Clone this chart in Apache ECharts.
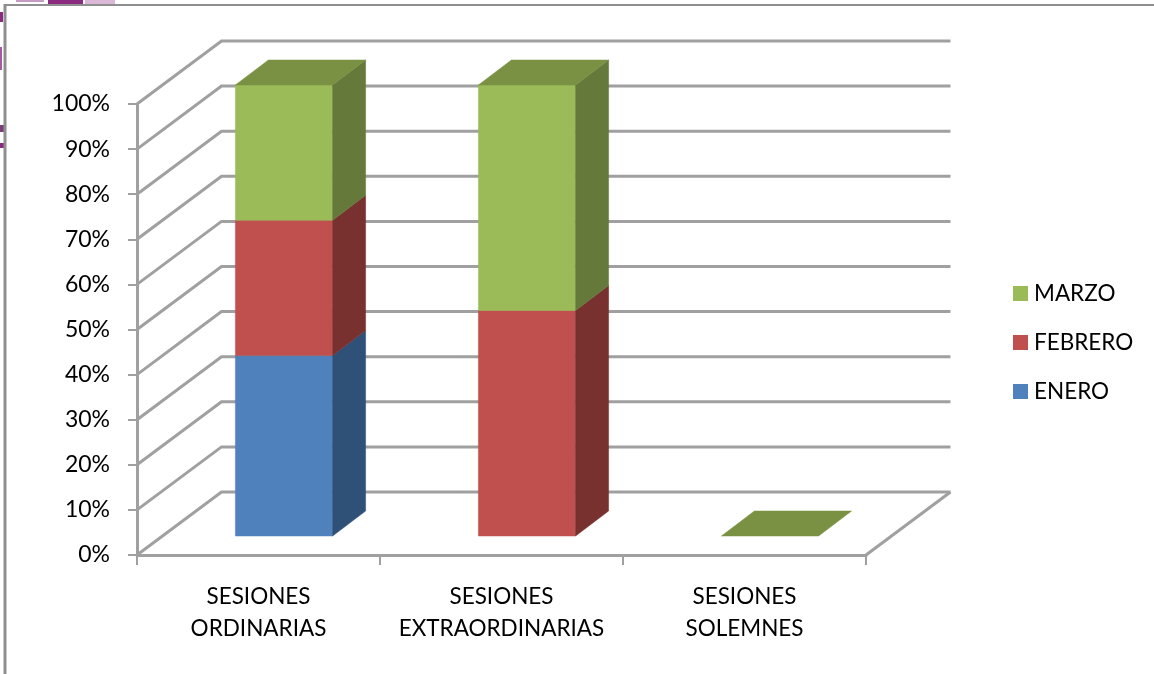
<!DOCTYPE html>
<html>
<head>
<meta charset="utf-8">
<style>html,body{margin:0;padding:0;background:#fff}#c{width:1154px;height:674px}</style>
<script src="https://cdn.jsdelivr.net/npm/echarts@6/dist/echarts.min.js"></script>
</head>
<body>
<div id="c"></div>
<script>
var categories = ['SESIONES\nORDINARIAS', 'SESIONES\nEXTRAORDINARIAS', 'SESIONES\nSOLEMNES'];
var enero = [40, 0, 0];
var febrero = [30, 50, 0];
var marzo = [30, 50, 0];
var wallTicks = [0, 10, 20, 30, 40, 50, 60, 70, 80, 90, 100];

var FONT = 'Lato, Carlito, sans-serif';
var GRID = '#a0a0a0';
var WALL_DX = 84.5, WALL_DY = -63;
var BAR_DX = 25.5, BAR_DY = -19, DEPTH_DX = 33, DEPTH_DY = -25;

function poly(points, fill) {
  return { type: 'polygon', shape: { points: points }, style: { fill: fill, stroke: fill, lineWidth: 0.5 } };
}

function barSeries(name, values, below, front, side, top, isTop) {
  return {
    name: name,
    type: 'custom',
    z: 3,
    itemStyle: { color: front },
    encode: { x: 0, y: [1, 2] },
    data: values.map(function (v, i) {
      var base = below.reduce(function (s, a) { return s + a[i]; }, 0);
      return [i, base, base + v];
    }),
    renderItem: function (params, api) {
      var i = api.value(0), lo = api.value(1), hi = api.value(2);
      var band = api.size([1, 0])[0];
      var w = band * 0.4;
      var c0 = api.coord([i, lo]), c1 = api.coord([i, hi]);
      var l = c0[0] - w / 2 + BAR_DX, r = l + w;
      var yb = c0[1] + BAR_DY, yt = c1[1] + BAR_DY;
      var kids = [];
      if (hi > lo) {
        kids.push(poly([[l, yb], [r, yb], [r, yt], [l, yt]], front));
        kids.push(poly([[r, yb], [r + DEPTH_DX, yb + DEPTH_DY], [r + DEPTH_DX, yt + DEPTH_DY], [r, yt]], side));
      }
      if (isTop) {
        kids.push(poly([[l, yt], [r, yt], [r + DEPTH_DX, yt + DEPTH_DY], [l + DEPTH_DX, yt + DEPTH_DY]], top));
      }
      return { type: 'group', children: kids };
    }
  };
}

var wallSeries = {
  type: 'custom',
  z: 1,
  silent: true,
  data: wallTicks.map(function (v) { return [0, v]; }),
  encode: { x: 0, y: 1 },
  renderItem: function (params, api) {
    var y = api.coord([0, api.value(1)])[1];
    var x0 = params.coordSys.x, w = params.coordSys.width;
    var kids = [{
      type: 'polyline',
      shape: { points: [[x0, y], [x0 + WALL_DX, y + WALL_DY], [x0 + w + WALL_DX, y + WALL_DY]] },
      style: { fill: 'none', stroke: GRID, lineWidth: 3 }
    }];
    if (api.value(1) === wallTicks[0]) {
      kids.push({
        type: 'line',
        shape: { x1: x0 + w, y1: y, x2: x0 + w + WALL_DX, y2: y + WALL_DY },
        style: { stroke: GRID, lineWidth: 3 }
      });
    }
    return { type: 'group', children: kids };
  }
};

function deco(x, y, w, h, fill) {
  return { type: 'rect', shape: { x: x, y: y, width: w, height: h }, style: { fill: fill }, z: 10 };
}

var chart = echarts.init(document.getElementById('c'), null, { renderer: 'canvas' });
chart.setOption({
  animation: false,
  backgroundColor: '#ffffff',
  grid: { left: 137, right: 288, top: 104, bottom: 119, containLabel: false },
  legend: {
    left: 1013, top: 282, padding: 0, orient: 'vertical', icon: 'rect',
    itemWidth: 15, itemHeight: 15, itemGap: 26, selectedMode: false,
    data: ['MARZO', 'FEBRERO', 'ENERO'],
    textStyle: { fontFamily: FONT, fontSize: 22.5, color: '#000', padding: [0, 0, 0, 1] }
  },
  xAxis: {
    type: 'category',
    data: categories,
    axisLine: { lineStyle: { color: GRID, width: 3 } },
    axisTick: { show: true, length: 10, lineStyle: { color: GRID, width: 2 } },
    axisLabel: { interval: 0, margin: 26, fontFamily: FONT, fontSize: 22.5, lineHeight: 32, color: '#000' }
  },
  yAxis: {
    type: 'value', min: 0, max: 100, interval: 10,
    splitLine: { show: false },
    axisLine: { show: true, lineStyle: { color: GRID, width: 3 } },
    axisTick: { show: true, length: 9, lineStyle: { color: GRID, width: 2 } },
    axisLabel: { formatter: '{value}%', margin: 27, fontFamily: FONT, fontSize: 23, color: '#000' }
  },
  series: [
    wallSeries,
    barSeries('ENERO', enero, [], '#4f81bd', '#2f5178', '#3f6797', false),
    barSeries('FEBRERO', febrero, [enero], '#c0504d', '#78312f', '#9a403e', false),
    barSeries('MARZO', marzo, [enero, febrero], '#9bbb59', '#65793a', '#7a9143', true)
  ],
  graphic: [
    deco(48, 0, 35, 4, '#8b2a7e'),
    deco(85, 0, 30, 4, '#dcb8d8'),
    deco(16, 0, 28, 2, '#c79ac2'),
    deco(0, 12, 3, 10, '#8b2a7e'),
    deco(0, 47, 2, 23, '#a65a9e'),
    deco(0, 125, 4, 7, '#7a3f78'),
    deco(0, 143, 4, 5, '#8b2a7e'),
    { type: 'line', shape: { x1: 4.5, y1: 5, x2: 1154, y2: 5 }, style: { stroke: '#8f8f8f', lineWidth: 2 }, z: 10 },
    { type: 'line', shape: { x1: 5, y1: 4, x2: 5, y2: 674 }, style: { stroke: '#8f8f8f', lineWidth: 3 }, z: 10 }
  ]
});
</script>
</body>
</html>
